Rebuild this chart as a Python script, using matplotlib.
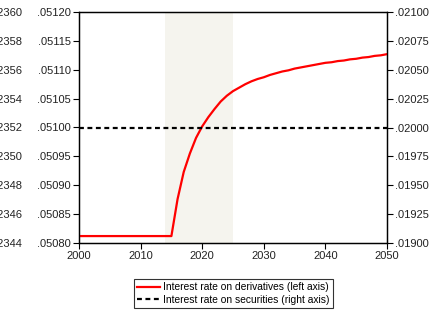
import matplotlib
matplotlib.use("Agg")
import matplotlib.pyplot as plt
from matplotlib.ticker import FuncFormatter, MultipleLocator
from matplotlib.lines import Line2D

plt.rcParams['font.family'] = ['Liberation Sans', 'DejaVu Sans']

years = list(range(2000, 2051))
deriv_rate = [0.050812] * 16 + [
    0.050876, 0.050923, 0.050955, 0.050982, 0.051002,
    0.051018, 0.051032, 0.051045, 0.051055, 0.051063,
    0.051069, 0.051075, 0.051080, 0.051084, 0.051087,
    0.051091, 0.051094, 0.051097, 0.051099, 0.051102,
    0.051104, 0.051106, 0.051108, 0.051110, 0.051112,
    0.051113, 0.051115, 0.051116, 0.051118, 0.051119,
    0.051121, 0.051122, 0.051124, 0.051125, 0.051127]
sec_rate = [0.0200] * len(years)
shade_start, shade_end = 2014, 2025
legend_labels = ["Interest rate on derivatives (left axis)",
                 "Interest rate on securities (right axis)"]

W, H = 432, 310
fig = plt.figure(figsize=(W / 100, H / 100), dpi=100)
pos = [79 / W, (H - 243) / H, (387 - 79) / W, (243 - 12) / H]

fs = 8
def fmt(v, p):
    s = f"{v:.5f}"
    return s[1:] if s.startswith("0") else s

# far-left axis (cut by the image edge, as in the reference)
ax3 = fig.add_axes(pos)
ax3.set_ylim(0.02344, 0.02360)
ax3.yaxis.set_major_locator(MultipleLocator(0.00002))
ax3.yaxis.set_major_formatter(FuncFormatter(fmt))
ax3.tick_params(axis='y', length=0, pad=41, labelsize=fs, colors='#222222')
ax3.set_xticks([])
for s in ax3.spines.values():
    s.set_visible(False)
ax3.patch.set_visible(False)

ax = fig.add_axes(pos)
ax.patch.set_visible(False)
ax.axvspan(shade_start, shade_end, color='#f5f4ee', zorder=0, lw=0)
ax.plot(years, deriv_rate, color='#ff0000', lw=1.6, zorder=3)
ax.set_xlim(2000, 2050)
ax.set_ylim(0.05080, 0.05120)
ax.yaxis.set_major_locator(MultipleLocator(0.00005))
ax.yaxis.set_major_formatter(FuncFormatter(fmt))
ax.xaxis.set_major_locator(MultipleLocator(10))
ax.tick_params(axis='both', direction='out', length=4, width=0.8,
               labelsize=fs, colors='black', labelcolor='#222222')
ax.tick_params(axis='y', pad=2)
ax.tick_params(axis='x', pad=2)
for s in ax.spines.values():
    s.set_linewidth(0.9)

ax2 = ax.twinx()
ax2.plot(years, sec_rate, color='black', lw=1.6, ls=(0, (2.2, 1.6)), zorder=2)
ax2.set_ylim(0.0190, 0.0210)
ax2.yaxis.set_major_locator(MultipleLocator(0.00025))
ax2.yaxis.set_major_formatter(FuncFormatter(fmt))
ax2.tick_params(axis='y', direction='out', length=4, width=0.8,
                labelsize=fs, pad=2, labelcolor='#222222')
for s in ax2.spines.values():
    s.set_linewidth(0.9)

handles = [Line2D([], [], color='#ff0000', lw=1.6),
           Line2D([], [], color='black', lw=1.6, ls=(0, (2.2, 1.6)))]
leg = fig.legend(handles, legend_labels, loc='center',
                 bbox_to_anchor=(233.5 / W, (H - 293.5) / H),
                 fontsize=7.4, frameon=True, fancybox=False,
                 handlelength=2.2, handletextpad=0.35, borderpad=0.35,
                 labelspacing=0.2, borderaxespad=0)
leg.get_frame().set_edgecolor('black')
leg.get_frame().set_linewidth(0.8)

fig.savefig("out.png", dpi=100)
